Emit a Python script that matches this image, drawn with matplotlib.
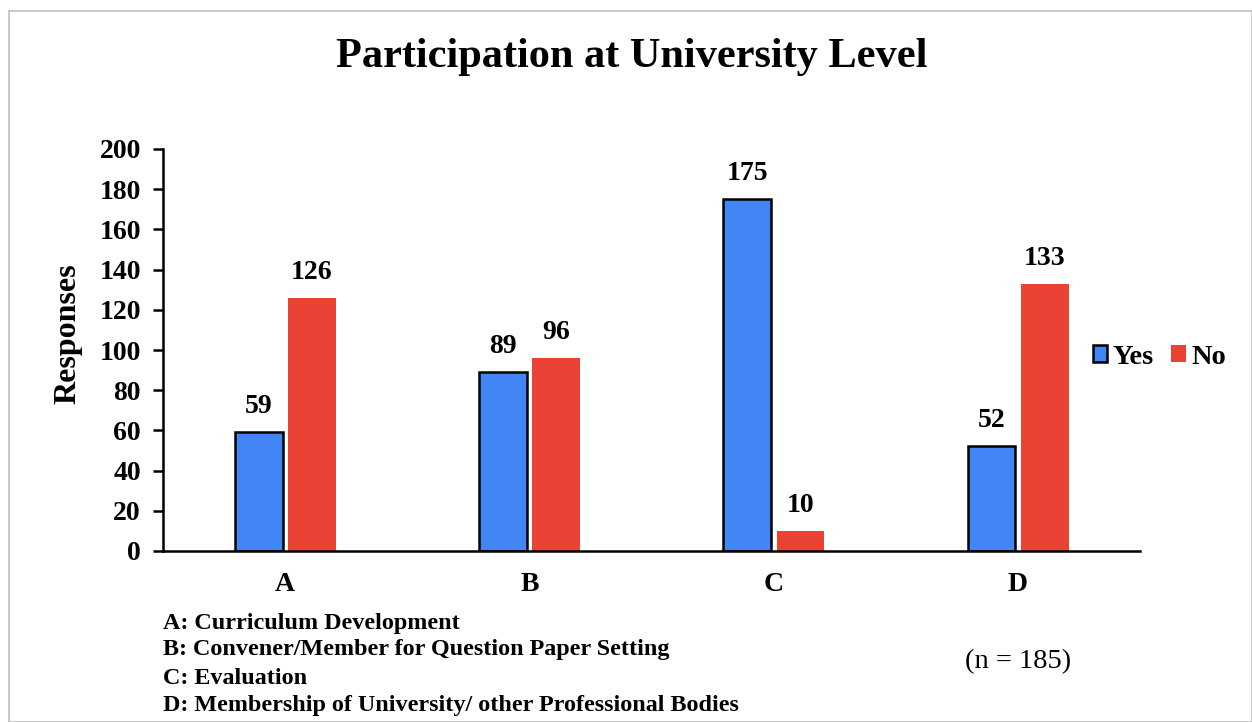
import matplotlib
matplotlib.use("Agg")
import matplotlib.pyplot as plt
import numpy as np
from matplotlib.patches import Rectangle

categories = ["A", "B", "C", "D"]
yes_vals = [59, 89, 175, 52]
no_vals = [126, 96, 10, 133]
series_names = ["Yes", "No"]
yticks = list(range(0, 201, 20))
notes = ["A: Curriculum Development",
         "B: Convener/Member for Question Paper Setting",
         "C: Evaluation",
         "D: Membership of University/ other Professional Bodies"]
title = "Participation at University Level"
n_note = "(n = 185)"

plt.rcParams['font.family'] = ['Liberation Serif', 'DejaVu Serif']

W, H = 1252, 722
fig = plt.figure(figsize=(W/100, H/100), dpi=100)
fig.patches.append(Rectangle((9/W, 0), (W-9)/W, (H-11)/H, transform=fig.transFigure,
                             fill=False, edgecolor='#bfbfbf', linewidth=1.2))

ax = fig.add_axes([163/W, 1-551/H, (1140-163)/W, (551-149)/H])
x = np.arange(len(categories))
bw = 0.195
blue = '#4285f4'
red = '#ea4335'
b1 = ax.bar(x - 0.108, yes_vals, bw, color=blue, edgecolor='black', linewidth=1.8, label=series_names[0])
b2 = ax.bar(x + 0.11, no_vals, bw, color=red, edgecolor='none', label=series_names[1])
for rects, vals in ((b1, yes_vals), (b2, no_vals)):
    for r, v in zip(rects, vals):
        ax.text(r.get_x() + r.get_width()/2, v + 6.5, str(v), ha='center', va='bottom',
                fontsize=20, fontweight='bold')

ax.set_xlim(-0.5, 3.5)
ax.set_ylim(0, 200)
ax.set_yticks(yticks)
ax.set_xticks(x)
ax.set_xticklabels(categories, fontsize=20, fontweight='bold')
for lab in ax.get_yticklabels():
    lab.set_fontsize(20); lab.set_fontweight('bold')
ax.tick_params(axis='y', length=7, width=1.8, pad=9)
ax.tick_params(axis='x', length=0, pad=15)
for s in ['top', 'right']:
    ax.spines[s].set_visible(False)
ax.spines['left'].set_linewidth(1.8)
ax.spines['bottom'].set_linewidth(1.8)
ax.set_ylabel("Responses", fontsize=23, fontweight='bold')
ax.yaxis.set_label_coords((82 - 163)/(1140-163), (551-334)/(551-149))

fig.text(632/W, 1-57/H, title, ha='center', va='center', fontsize=30.5, fontweight='bold')

leg = ax.legend(loc='center left', bbox_to_anchor=(1093/W, 1-357/H), bbox_transform=fig.transFigure,
                ncol=2, frameon=False, handlelength=0.5, handleheight=0.5, handletextpad=0.2,
                columnspacing=0.6, borderpad=0, borderaxespad=0, prop={'size': 20.5, 'weight': 'bold'})

ys = [623, 650, 678, 706]
for t, yy in zip(notes, ys):
    fig.text(163/W, 1-yy/H, t, ha='left', va='center', fontsize=17.4, fontweight='bold')
fig.text(1018/W, 1-662/H, n_note, ha='center', va='center', fontsize=20.5)

fig.savefig("out.png", dpi=100)
